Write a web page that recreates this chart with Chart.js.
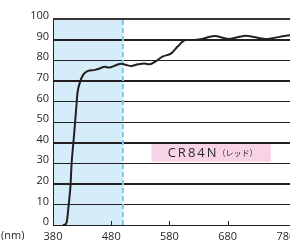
<!DOCTYPE html>
<html>
<head>
<meta charset="utf-8">
<script src="https://cdn.jsdelivr.net/npm/chart.js@4"></script>
<style>
    html, body { margin: 0; padding: 0; background: #fff; overflow: hidden; }
</style>
</head>
<body>
<canvas id="chart" width="290" height="240"></canvas>
<script>
// wavelength (nm) and transmittance (%)
const wavelengths = [397, 402, 404, 407, 410, 412, 415, 418, 420.5, 422, 426, 432, 440, 452, 460, 469, 476, 489, 497, 506, 514, 526, 537, 546, 557, 568, 583, 594, 608, 623, 634, 657, 682, 711, 745, 780, 795];
const transmittance = [0, 0.5, 2, 10, 19, 30, 40, 50, 59, 64, 69, 73, 74.8, 75.3, 76, 76.8, 76.4, 77.7, 78.3, 77.7, 77.2, 78, 78.4, 78, 79.6, 81.7, 83.3, 86.6, 89.8, 89.8, 90.2, 91.7, 90.3, 91.9, 90.3, 91.9, 92.4];
const xTicks = [380, 480, 580, 680, 780];
const uvCut = [380, 500];
const labelMain = 'CR84N';
const labelSub = '（レッド）';
const labelBox = { x0: 549, x1: 754, y0: 30, y1: 40 };

const ink = '#231f20';
const fontFamily = '"Open Sans", "Noto Sans", sans-serif';

const extras = {
    id: 'extras',
    beforeDraw(chart) {
        const { ctx, chartArea, scales: { x } } = chart;
        // shaded UV band
        ctx.save();
        ctx.fillStyle = '#d5ecf9';
        const l = x.getPixelForValue(uvCut[0]);
        const r = x.getPixelForValue(uvCut[1]);
        ctx.fillRect(l, chartArea.top, r - l, chartArea.bottom - chartArea.top);
        ctx.restore();
    },
    beforeDatasetsDraw(chart) {
        const { ctx, chartArea, scales: { x, y } } = chart;
        const w = chartArea.right - chartArea.left;
        ctx.save();
        // rules at each y tick, filled as thin bars
        ctx.fillStyle = ink;
        y.ticks.forEach(t => {
            const py = Math.round(y.getPixelForValue(t.value));
            if (t.value === 100) {
                ctx.fillStyle = '#3b3434';
                ctx.fillRect(chartArea.left, py - 1, w, 2);
                ctx.fillStyle = ink;
            } else {
                ctx.fillRect(chartArea.left, py, w, 1);
            }
        });
        // left axis line
        ctx.fillRect(Math.round(chartArea.left), chartArea.top, 1, chartArea.bottom - chartArea.top);
        // small inner ticks on the baseline
        const by = Math.round(y.getPixelForValue(0));
        xTicks.slice(1, 4).forEach(v => {
            ctx.fillRect(Math.round(x.getPixelForValue(v)), by - 4, 1, 4);
        });
        // dashed line at the cut
        const dx = x.getPixelForValue(uvCut[1]);
        ctx.strokeStyle = '#7cc9ee';
        ctx.lineWidth = 2;
        ctx.setLineDash([5, 3]);
        ctx.beginPath();
        ctx.moveTo(dx, chartArea.top + 1);
        ctx.lineTo(dx, chartArea.bottom);
        ctx.stroke();
        ctx.setLineDash([]);
        // label box
        const bx0 = x.getPixelForValue(labelBox.x0);
        const bx1 = x.getPixelForValue(labelBox.x1);
        const by0 = y.getPixelForValue(labelBox.y1) + 1.5;
        const by1 = y.getPixelForValue(labelBox.y0) - 1.5;
        ctx.fillStyle = '#f8d3e5';
        ctx.fillRect(bx0, by0, bx1 - bx0, by1 - by0);
        ctx.fillStyle = '#2b2b2b';
        ctx.textBaseline = 'middle';
        ctx.letterSpacing = '2px';
        ctx.font = '13px ' + fontFamily;
        const mainW = ctx.measureText(labelMain).width;
        ctx.letterSpacing = '0px';
        ctx.font = '8px "Noto Sans CJK JP", sans-serif';
        const subW = ctx.measureText(labelSub).width;
        const cy = (by0 + by1) / 2;
        const tx = (bx0 + bx1) / 2 - (mainW + subW) / 2 + 2;
        ctx.letterSpacing = '2px';
        ctx.font = '13px ' + fontFamily;
        ctx.fillText(labelMain, tx, cy + 0.5);
        ctx.letterSpacing = '0px';
        ctx.font = '8px "Noto Sans CJK JP", sans-serif';
        ctx.fillText(labelSub, tx + mainW - 1, cy);
        ctx.restore();
    },
    afterDraw(chart) {
        const { ctx, chartArea } = chart;
        ctx.save();
        ctx.fillStyle = ink;
        ctx.font = '11px ' + fontFamily;
        ctx.textBaseline = 'top';
        ctx.textAlign = 'left';
        ctx.fillText('(nm)', 1, chartArea.bottom + 5);
        ctx.restore();
    }
};

new Chart(document.getElementById('chart'), {
    type: 'line',
    data: {
        datasets: [{
            data: wavelengths.map((w, i) => ({ x: w, y: transmittance[i] })),
            borderColor: ink,
            borderWidth: 2,
            pointRadius: 0,
            cubicInterpolationMode: 'monotone',
        }],
    },
    options: {
        responsive: false,
        animation: false,
        layout: { padding: { top: 19, right: 0, bottom: 0, left: 0 } },
        plugins: { legend: { display: false }, tooltip: { enabled: false } },
        scales: {
            x: {
                type: 'linear',
                min: 380,
                max: 787,
                afterBuildTicks: scale => { scale.ticks = xTicks.map(v => ({ value: v })); },
                afterFit: scale => {
                    scale.height = 15;
                    scale.paddingRight = 0;
                },
                grid: { display: false, drawTicks: false },
                border: { display: false },
                ticks: {
                    padding: 5,
                    color: ink,
                    font: { family: fontFamily, size: 11 },
                    maxRotation: 0,
                    autoSkip: false,
                },
            },
            y: {
                min: 0,
                max: 100,
                afterFit: scale => { scale.width = 53; },
                grid: { color: ink, lineWidth: 1, tickLength: 0 },
                border: { display: true, color: ink, width: 1 },
                ticks: {
                    stepSize: 10,
                    padding: 4,
                    labelOffset: -3,
                    color: ink,
                    font: { family: fontFamily, size: 11 },
                },
            },
        },
    },
    plugins: [extras],
});
</script>
</body>
</html>
